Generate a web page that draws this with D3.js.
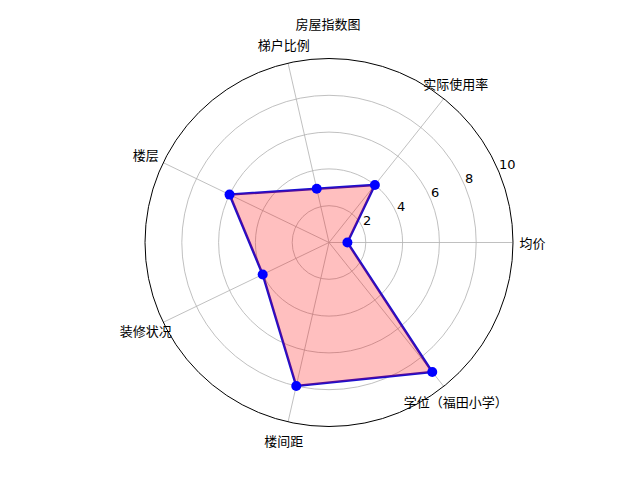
<!DOCTYPE html>
<html>
<head>
<meta charset="utf-8">
<script src="https://cdn.jsdelivr.net/npm/d3@7"></script>
<style>
  body { margin: 0; background: #fff; }
  text { font-family: "Noto Sans CJK SC", "DejaVu Sans", sans-serif; fill: #000; }
  .tick text { font-family: "DejaVu Sans", sans-serif; }
</style>
</head>
<body>
<svg id="chart" width="640" height="480"></svg>
<script>
// radar data
var categories = ["均价", "实际使用率", "梯户比例", "楼层", "装修状况", "楼间距", "学位（福田小学）"];
var values = [1, 4, 3, 6, 4, 8, 9];
var rTicks = [2, 4, 6, 8, 10];
var title = "房屋指数图";

var cx = 329, cy = 242.5, R = 184;

var svg = d3.select("#chart");
var g = svg.append("g").attr("transform", "translate(" + cx + "," + cy + ")");

var rScale = d3.scaleLinear().domain([0, 10]).range([0, R]);
var angle = d3.scaleLinear().domain([0, categories.length]).range([0, 2 * Math.PI]);

// math angle (counter-clockwise from east) -> svg coords
function px(a, r) { return r * Math.cos(a); }
function py(a, r) { return -r * Math.sin(a); }

// grid circles
g.selectAll("circle.grid")
  .data(rTicks.slice(0, -1))
  .enter().append("circle")
  .attr("class", "grid")
  .attr("r", function(d) { return rScale(d); })
  .attr("fill", "none")
  .attr("stroke", "#b0b0b0")
  .attr("stroke-width", 0.8);

// spokes
g.selectAll("line.spoke")
  .data(categories)
  .enter().append("line")
  .attr("class", "spoke")
  .attr("x1", 0).attr("y1", 0)
  .attr("x2", function(d, i) { return px(angle(i), R); })
  .attr("y2", function(d, i) { return py(angle(i), R); })
  .attr("stroke", "#b0b0b0")
  .attr("stroke-width", 0.8);

// outer frame
g.append("circle")
  .attr("r", R)
  .attr("fill", "none")
  .attr("stroke", "#000")
  .attr("stroke-width", 1);

// radial tick labels at 22.5 deg
var labA = 22.5 * Math.PI / 180;
g.selectAll("g.tick")
  .data(rTicks)
  .enter().append("g")
  .attr("class", "tick")
  .append("text")
  .attr("x", function(d) { return px(labA, rScale(d)); })
  .attr("y", function(d) { return py(labA, rScale(d)) - 3; })
  .attr("font-size", 13)
  .text(function(d) { return d; });

// polygon
var pts = values.map(function(v, i) { return [px(angle(i), rScale(v)), py(angle(i), rScale(v))]; });
var line = d3.line().curve(d3.curveLinearClosed);

g.append("path")
  .attr("d", line(pts))
  .attr("fill", "none")
  .attr("stroke", "#1a0fd0")
  .attr("stroke-width", 2.5);

g.append("path")
  .attr("d", line(pts))
  .attr("fill", "rgba(255,0,0,0.25)")
  .attr("stroke", "none");

g.selectAll("circle.pt")
  .data(pts)
  .enter().append("circle")
  .attr("class", "pt")
  .attr("cx", function(d) { return d[0]; })
  .attr("cy", function(d) { return d[1]; })
  .attr("r", 5)
  .attr("fill", "#0000ff");

// category labels
g.selectAll("text.cat")
  .data(categories)
  .enter().append("text")
  .attr("class", "cat")
  .attr("x", function(d, i) { return px(angle(i), 203.5); })
  .attr("y", function(d, i) { return py(angle(i), 203.5); })
  .attr("text-anchor", "middle")
  .attr("dominant-baseline", "central")
  .attr("font-size", 13)
  .text(function(d) { return d; });

// title
svg.append("text")
  .attr("x", 328)
  .attr("y", 23.5)
  .attr("text-anchor", "middle")
  .attr("dominant-baseline", "central")
  .attr("font-size", 13)
  .text(title);
</script>
</body>
</html>
